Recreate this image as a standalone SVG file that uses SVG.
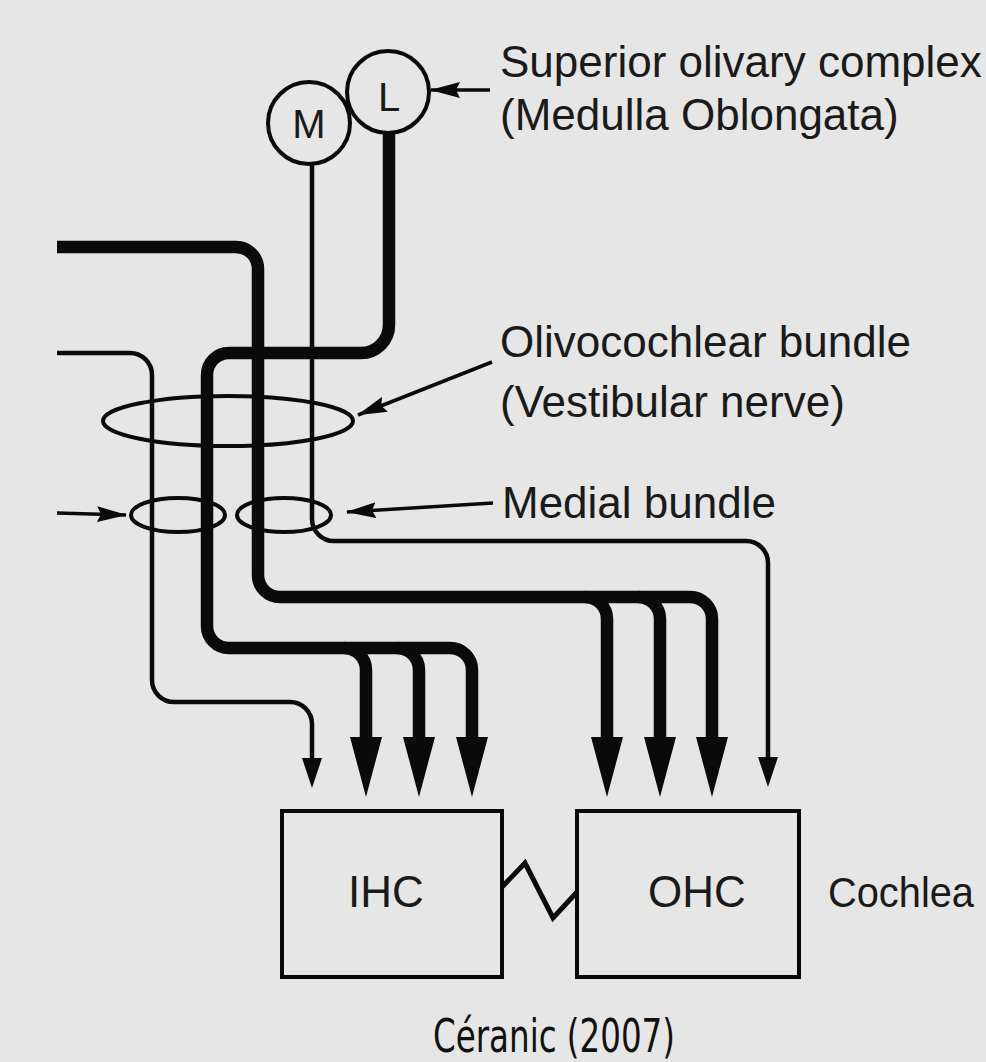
<svg xmlns="http://www.w3.org/2000/svg" width="986" height="1062" viewBox="0 0 986 1062">
<style>
.bg{fill:#e6e6e6}
.node{fill:none;stroke:#0a0a0a;stroke-width:4}
.thick{fill:none;stroke:#0a0a0a;stroke-width:12.5;stroke-linecap:butt}
.thin{fill:none;stroke:#0a0a0a;stroke-width:4.5;stroke-linecap:butt}
.ptr{fill:none;stroke:#0a0a0a;stroke-width:3.5}
.lbl{font-family:"Liberation Sans",Arial,sans-serif;font-size:44px;fill:#1a1a1a}
.cap{font-family:"Liberation Sans Narrow","DejaVu Sans Condensed","Liberation Sans",sans-serif;font-size:46px;fill:#111}
</style>
<defs>
<marker id="headThick" markerUnits="userSpaceOnUse" markerWidth="60" markerHeight="32" viewBox="0 0 60 32" refX="0" refY="16" orient="auto"><path d="M0,0 L60,16 L0,32 z" fill="#0a0a0a"/></marker>
<marker id="headThin" markerUnits="userSpaceOnUse" markerWidth="30" markerHeight="20" viewBox="0 0 30 20" refX="0" refY="10" orient="auto"><path d="M0,0 L30,10 L0,20 z" fill="#0a0a0a"/></marker>
<marker id="headPtr" markerUnits="userSpaceOnUse" markerWidth="30" markerHeight="16" viewBox="0 0 30 16" refX="29" refY="8" orient="auto"><path d="M0,0 L30,8 L0,16 L4,8 z" fill="#0a0a0a"/></marker>
</defs>
<rect class="bg" x="0" y="0" width="986" height="1062"/>

<g id="connectors">
  <path class="thick" d="M57 247 H236 A22 22 0 0 1 258 269 V575 A22 22 0 0 0 280 597 H690 A22 22 0 0 1 712 619 V737" marker-end="url(#headThick)"/>
  <path class="thick" d="M585 597 A22 22 0 0 1 607 619 V737" marker-end="url(#headThick)"/>
  <path class="thick" d="M638 597 A22 22 0 0 1 660 619 V737" marker-end="url(#headThick)"/>
  <path class="thick" d="M389 134 V325 A28 28 0 0 1 361 353 H229 A22 22 0 0 0 207 375 V626 A22 22 0 0 0 229 648 H450 A22 22 0 0 1 472 670 V737" marker-end="url(#headThick)"/>
  <path class="thick" d="M344 648 A22 22 0 0 1 366 670 V737" marker-end="url(#headThick)"/>
  <path class="thick" d="M397 648 A22 22 0 0 1 419 670 V737" marker-end="url(#headThick)"/>
  <path class="thin" d="M57 353 H130 A22 22 0 0 1 152 375 V680 A22 22 0 0 0 174 702 H290 A22 22 0 0 1 312 724 V758" marker-end="url(#headThin)"/>
  <path class="thin" d="M312 164 V519 A22 22 0 0 0 334 541 H746 A22 22 0 0 1 768 563 V757" marker-end="url(#headThin)"/>
  <line class="ptr" x1="490" y1="90" x2="431" y2="90" marker-end="url(#headPtr)"/>
  <line class="ptr" x1="492" y1="362" x2="358" y2="415" marker-end="url(#headPtr)"/>
  <line class="ptr" x1="493" y1="503" x2="347" y2="512" marker-end="url(#headPtr)"/>
  <line class="ptr" x1="57" y1="513" x2="126" y2="515" marker-end="url(#headPtr)"/>
  <polyline class="node" style="stroke-width:5" points="502,887 525,863 553,918 577,892"/>
</g>

<g id="node-M">
  <circle class="node" cx="309" cy="123" r="41" style="fill:#e6e6e6"/>
  <text class="lbl" x="309" y="138" text-anchor="middle" style="font-size:40px">M</text>
</g>
<g id="node-L">
  <circle class="node" cx="388" cy="92" r="41" style="fill:#e6e6e6"/>
  <text class="lbl" x="389" y="111" text-anchor="middle" style="font-size:40px">L</text>
</g>
<g id="node-olivocochlear-bundle">
  <ellipse class="node" cx="228" cy="421" rx="125" ry="25"/>
</g>
<g id="node-bundle-left">
  <ellipse class="node" cx="178" cy="515" rx="47" ry="17"/>
</g>
<g id="node-medial-bundle">
  <ellipse class="node" cx="284" cy="515" rx="47" ry="17"/>
</g>
<g id="node-IHC">
  <rect class="node" x="282" y="811" width="220" height="166"/>
  <text class="lbl" x="386" y="907" text-anchor="middle">IHC</text>
</g>
<g id="node-OHC">
  <rect class="node" x="577" y="811" width="222" height="166"/>
  <text class="lbl" x="697" y="907" text-anchor="middle">OHC</text>
</g>

<g id="labels">
  <text class="lbl" x="500" y="77">Superior olivary complex</text>
  <text class="lbl" x="500" y="130">(Medulla Oblongata)</text>
  <text class="lbl" x="500" y="357">Olivocochlear bundle</text>
  <text class="lbl" x="500" y="417">(Vestibular nerve)</text>
  <text class="lbl" x="502" y="518">Medial bundle</text>
  <text class="lbl" x="828" y="907" style="font-size:42px" textLength="146" lengthAdjust="spacingAndGlyphs">Cochlea</text>
  <text class="cap" x="433" y="1052" textLength="242" lengthAdjust="spacingAndGlyphs">Céranic (2007)</text>
</g>
</svg>
